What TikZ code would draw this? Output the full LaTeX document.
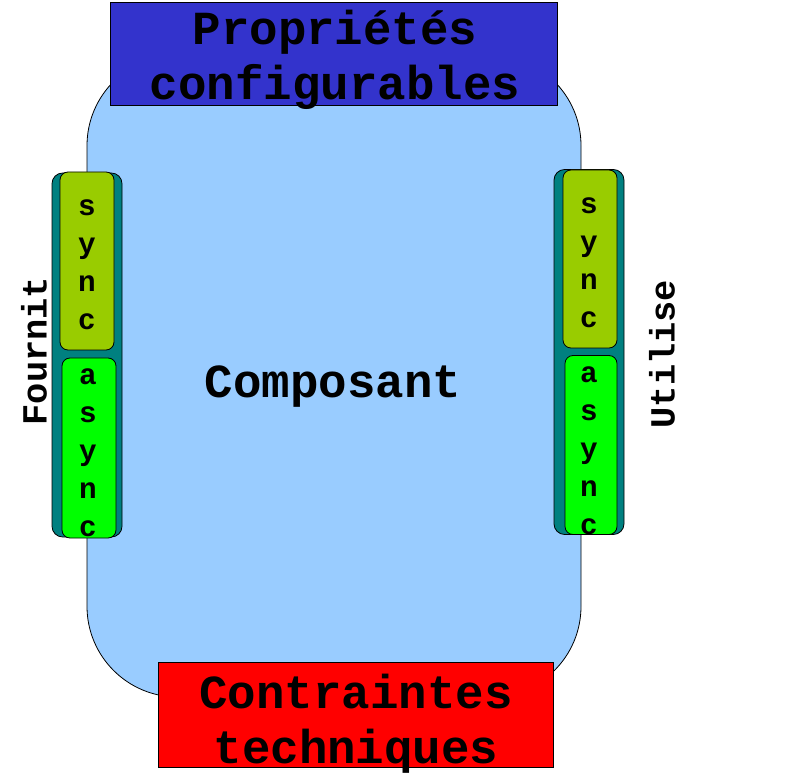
\documentclass[tikz,border=0pt]{standalone}
\usepackage{fontspec}
\setmonofont{Liberation Mono}
\definecolor{bodyblue}{HTML}{99CCFF}
\definecolor{topblue}{HTML}{3333CC}
\definecolor{portteal}{HTML}{008080}
\definecolor{syncgreen}{HTML}{99CC00}
\definecolor{asyncgreen}{HTML}{00FF00}
\definecolor{botred}{HTML}{FF0000}
\tikzset{
  px/.style={x=0.75pt,y=-0.75pt},
  bigtext/.style={font=\ttfamily\bfseries\fontsize{35.6}{41.5}\selectfont, align=center, inner sep=0pt},
  lettertext/.style={font=\ttfamily\bfseries\fontsize{22}{28.5}\selectfont, align=center, inner sep=0pt},
  sidetext/.style={font=\ttfamily\bfseries\fontsize{26.5}{30}\selectfont, inner sep=0pt, rotate=90},
  boxshape/.style={draw=black, line width=0.6pt, inner sep=0pt},
}
\begin{document}
\begin{tikzpicture}[px]
\useasboundingbox (0,0) rectangle (810,773);
% body
\node[boxshape, fill=bodyblue, rounded corners=68pt, minimum width={494*0.75pt}, minimum height={642*0.75pt}] (body) at (334,376) {};
% left port
\node[boxshape, fill=portteal, rounded corners=8pt, minimum width={70*0.75pt}, minimum height={364*0.75pt}] (lport) at (87,355) {};
\node[boxshape, fill=syncgreen, rounded corners=6pt, minimum width={54*0.75pt}, minimum height={178*0.75pt}] (lsync) at (87,261) {};
\node[boxshape, fill=asyncgreen, rounded corners=6pt, minimum width={54*0.75pt}, minimum height={180*0.75pt}] (lasync) at (89,448) {};
\node[lettertext] (lsynct) at (87,265) {s\\y\\n\\c};
\node[lettertext] (lasynct) at (88,453) {a\\s\\y\\n\\c};
% right port
\node[boxshape, fill=portteal, rounded corners=8pt, minimum width={70*0.75pt}, minimum height={365*0.75pt}] (rport) at (589,352) {};
\node[boxshape, fill=syncgreen, rounded corners=6pt, minimum width={54*0.75pt}, minimum height={178*0.75pt}] (rsync) at (590,259) {};
\node[boxshape, fill=asyncgreen, rounded corners=6pt, minimum width={52*0.75pt}, minimum height={179*0.75pt}] (rasync) at (591,445) {};
\node[lettertext] (rsynct) at (589,263) {s\\y\\n\\c};
\node[lettertext] (rasynct) at (589,451) {a\\s\\y\\n\\c};
% side labels
\node[sidetext] (fournit) at (34,351) {Fournit};
\node[sidetext] (utilise) at (662,354) {Utilise};
% central label
\node[bigtext] (composant) at (333,387) {Composant};
% top box
\node[boxshape, fill=topblue, minimum width={447*0.75pt}, minimum height={103*0.75pt}] (props) at (333.5,53.5) {};
\node[bigtext] (propst) at (335,60) {Propriétés\\configurables};
% bottom box
\node[boxshape, fill=botred, minimum width={395*0.75pt}, minimum height={105*0.75pt}] (contr) at (355.5,714.5) {};
\node[bigtext] (contrt) at (356,724) {Contraintes\\techniques};
\end{tikzpicture}
\end{document}
